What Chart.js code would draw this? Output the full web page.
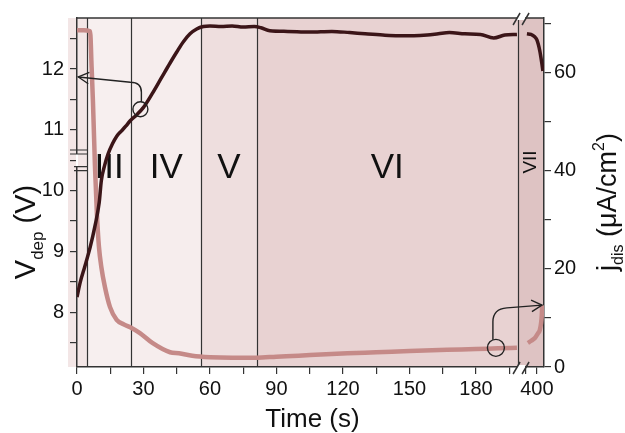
<!DOCTYPE html>
<html>
<head>
<meta charset="utf-8">
<script src="https://cdn.jsdelivr.net/npm/chart.js@4.4.1/dist/chart.umd.min.js"></script>
<style>
  html, body { margin: 0; padding: 0; background: #fff; }
</style>
</head>
<body>
<canvas id="myChart" width="625" height="433"></canvas>
<script>
// time axis is broken: ~199 s jumps to ~391.5 s
var BREAK_AT = 199;
var SEG2_START = 391.5;
var SHIFT = SEG2_START - BREAK_AT;
var T_END = 403.2;

function toAxis(t) { return t >= SEG2_START ? t - SHIFT : t; }
function fromAxis(v) { return v > BREAK_AT ? v + SHIFT : v; }

// V_dep (left axis)
var timeV = [0, 1.5, 3.5, 6, 8, 10, 11, 12.5, 14, 16, 18, 20, 22, 24, 27, 30, 34, 38, 42, 45, 48, 51, 54, 57, 60, 65, 70, 75, 80, 83, 87, 95, 105, 115, 123, 130, 138, 145, 152, 158, 163, 168, 175, 182, 188, 193, 198.5,
             395.5, 397.3, 399, 400, 401.3, 402.2, 402.7];
var vdep = [8.25, 8.5, 8.75, 9.08, 9.4, 9.8, 10.17, 10.42, 10.6, 10.77, 10.9, 10.98, 11.06, 11.15, 11.25, 11.37, 11.6, 11.85, 12.1, 12.28, 12.45, 12.58, 12.66, 12.7, 12.71, 12.7, 12.71, 12.69, 12.7, 12.68, 12.63, 12.62, 12.61, 12.62, 12.6, 12.58, 12.56, 12.55, 12.55, 12.56, 12.58, 12.6, 12.58, 12.57, 12.51, 12.56, 12.57,
            12.58, 12.57, 12.53, 12.48, 12.3, 12.1, 11.97];

// j_dis (right axis)
var timeJ = [0, 3, 5.9, 6.6, 7.2, 8.1, 9, 9.9, 11, 12.6, 14.9, 17.9, 21, 24, 28.4, 34, 42, 46, 52, 60, 70, 81, 90, 100, 110, 122, 135, 150, 167, 180, 190, 198.5,
             395.9, 397.3, 399.1, 400.4, 401.3, 401.9, 402.2, 402.4];
var jdis = [68.6, 68.6, 68.4, 61, 54, 41, 31, 24.5, 20.3, 16.3, 12.2, 9.6, 8.7, 8.1, 6.9, 4.9, 3.0, 2.8, 2.3, 2.0, 1.9, 1.9, 2.1, 2.3, 2.55, 2.8, 3.0, 3.25, 3.5, 3.65, 3.8, 3.9,
            4.9, 5.3, 5.9, 6.8, 7.5, 9.0, 10.5, 12.6];

// stages
var regionStart = [0, 4.5, 24.5, 56, 81, SEG2_START];
var regionEnd = [4.5, 24.5, 56, 81, BREAK_AT, T_END];
var regionLabels = ['', 'III', 'IV', 'V', 'VI', 'VII'];
var regionColors = ['#f3e6e6', '#f7efef', '#f6eded', '#eedede', '#e8d2d2', '#dec3c3'];

// ticks
var xMajor = [0, 30, 60, 90, 120, 150, 180, 400];
var xMinor = [15, 45, 75, 105, 135, 165, 195, 395];
var vMajor = [8, 9, 10, 11, 12];
var vMinor = [7.5, 8.5, 9.5, 10.5, 11.5, 12.5];
var jMajor = [0, 20, 40, 60];
var jMinor = [10, 30, 50, 70];

var FONT = "'Liberation Sans', Arial, sans-serif";

function series(ts, ys) {
    var pts = [];
    for (var i = 0; i < ts.length; i++) {
        if (i > 0 && ts[i] >= SEG2_START && ts[i - 1] < SEG2_START) {
            pts.push({x: BREAK_AT, y: null});
        }
        pts.push({x: toAxis(ts[i]), y: ys[i]});
    }
    return pts;
}

function tickList(major, minor, map) {
    map = map || function (v) { return v; };
    return major.concat(minor).map(map).sort(function (a, b) { return a - b; })
        .map(function (v) { return {value: v}; });
}

function drawLabel(ctx, x, y, parts) {
    // rotated -90deg, parts: text, size, dy (baseline shift)
    var total = 0;
    parts.forEach(function (p) { ctx.font = p.size + 'px ' + FONT; p.w = ctx.measureText(p.text).width; total += p.w; });
    ctx.save();
    ctx.translate(x, y);
    ctx.rotate(-Math.PI / 2);
    ctx.fillStyle = '#111';
    ctx.textBaseline = 'alphabetic';
    ctx.textAlign = 'left';
    var cx = -total / 2;
    parts.forEach(function (p) {
        ctx.font = p.size + 'px ' + FONT;
        ctx.fillText(p.text, cx, p.dy);
        cx += p.w;
    });
    ctx.restore();
}

function arrowHead(ctx, tx, ty, fx, fy) {
    var a = Math.atan2(ty - fy, tx - fx);
    var len = 12, sp = 0.5;
    ctx.beginPath();
    ctx.moveTo(tx - len * Math.cos(a - sp), ty - len * Math.sin(a - sp));
    ctx.lineTo(tx, ty);
    ctx.lineTo(tx - len * Math.cos(a + sp), ty - len * Math.sin(a + sp));
    ctx.stroke();
}

var stagePlugin = {
    id: 'stages',
    beforeDraw: function (chart) {
        var ctx = chart.ctx, a = chart.chartArea, x = chart.scales.x;
        ctx.save();
        ctx.fillStyle = regionColors[0];
        ctx.fillRect(a.left - 9, a.top, 9, a.bottom - a.top);
        for (var i = 0; i < regionStart.length; i++) {
            var x0 = x.getPixelForValue(toAxis(regionStart[i]));
            var x1 = x.getPixelForValue(toAxis(regionEnd[i]));
            ctx.fillStyle = regionColors[i];
            ctx.fillRect(x0, a.top, x1 - x0, a.bottom - a.top);
        }
        // stage names
        ctx.fillStyle = '#111';
        ctx.textAlign = 'center';
        ctx.textBaseline = 'middle';
        for (var k = 1; k < regionLabels.length; k++) {
            var xm = x.getPixelForValue(toAxis((regionStart[k] + regionEnd[k]) / 2));
            if (regionLabels[k] === 'VII') {
                ctx.save();
                ctx.translate(xm, a.top + 144);
                ctx.rotate(-Math.PI / 2);
                ctx.font = '19px ' + FONT;
                ctx.fillText(regionLabels[k], 0, 0);
                ctx.restore();
            } else {
                ctx.font = '35px ' + FONT;
                ctx.fillText(regionLabels[k], xm, a.top + 150);
            }
        }
        ctx.restore();
    },
    beforeDatasetsDraw: function (chart) {
        var ctx = chart.ctx, a = chart.chartArea, x = chart.scales.x;
        ctx.save();
        ctx.strokeStyle = '#333';
        ctx.lineWidth = 1.2;
        for (var i = 1; i < regionStart.length; i++) {
            var xp = Math.round(x.getPixelForValue(toAxis(regionStart[i]))) + 0.5;
            if (regionStart[i] === SEG2_START) xp = Math.round(x.getPixelForValue(BREAK_AT)) + 0.5;
            ctx.beginPath();
            ctx.moveTo(xp, a.top);
            ctx.lineTo(xp, a.bottom);
            ctx.stroke();
        }
        ctx.restore();
    },
    afterDraw: function (chart) {
        var ctx = chart.ctx, a = chart.chartArea, s = chart.scales;
        var px = function (t) { return s.x.getPixelForValue(toAxis(t)); };
        var pv = function (v) { return s.y.getPixelForValue(v); };
        var pj = function (v) { return s.y1.getPixelForValue(v); };
        ctx.save();
        ctx.strokeStyle = '#333';
        ctx.lineWidth = 1.5;
        // top frame
        ctx.beginPath();
        ctx.moveTo(a.left, a.top);
        ctx.lineTo(a.right, a.top);
        ctx.stroke();

        // break marks on time axis
        var xb = s.x.getPixelForValue(BREAK_AT);
        [a.top, a.bottom].forEach(function (yb) {
            ctx.fillStyle = '#fff';
            ctx.fillRect(xb - 1, yb - 2, 8, 4);
            ctx.beginPath();
            ctx.moveTo(xb - 5, yb + 7); ctx.lineTo(xb + 2, yb - 5);
            ctx.moveTo(xb + 4, yb + 7); ctx.lineTo(xb + 11, yb - 5);
            ctx.stroke();
        });
        // break marks on V axis
        var yb1 = pv(10.62), yb2 = pv(10.38);
        ctx.fillStyle = '#fff';
        ctx.fillRect(a.left - 1, yb1 + 1, 2, yb2 - yb1 - 2);
        ctx.lineWidth = 1.2;
        ctx.beginPath();
        ctx.moveTo(a.left - 7, yb1 - 3); ctx.lineTo(a.left + 10, yb1 - 3);
        ctx.moveTo(a.left - 7, yb1 + 1); ctx.lineTo(a.left + 10, yb1 + 1);
        ctx.moveTo(a.left - 3, yb2 - 1); ctx.lineTo(a.left + 10, yb2 - 1);
        ctx.moveTo(a.left - 3, yb2 + 3); ctx.lineTo(a.left + 10, yb2 + 3);
        ctx.stroke();

        // arrows
        ctx.strokeStyle = '#222';
        ctx.lineWidth = 1.4;
        var c1x = px(28.6), c1y = pv(11.34);
        ctx.beginPath(); ctx.arc(c1x, c1y, 7.5, 0, Math.PI * 2); ctx.stroke();
        var t1x = px(0.6), t1y = pv(11.87);
        ctx.beginPath();
        ctx.moveTo(c1x + 1, c1y - 7.5);
        ctx.lineTo(c1x + 1, c1y - 17);
        ctx.quadraticCurveTo(c1x + 1, c1y - 27, c1x - 10, c1y - 27);
        ctx.lineTo(t1x, t1y);
        ctx.stroke();
        arrowHead(ctx, t1x, t1y, c1x - 10, c1y - 27);

        var c2x = px(189), c2y = pj(3.9);
        ctx.beginPath(); ctx.arc(c2x, c2y, 8.5, 0, Math.PI * 2); ctx.stroke();
        var t2x = px(402.3), t2y = pj(12.6);
        ctx.beginPath();
        ctx.moveTo(c2x - 3, c2y - 8);
        ctx.lineTo(c2x - 3, c2y - 26);
        ctx.quadraticCurveTo(c2x - 3, c2y - 39, c2x + 11, c2y - 40);
        ctx.lineTo(t2x, t2y);
        ctx.stroke();
        arrowHead(ctx, t2x, t2y, c2x + 11, c2y - 40);

        // axis titles
        ctx.fillStyle = '#111';
        ctx.font = '26px ' + FONT;
        ctx.textAlign = 'center';
        ctx.textBaseline = 'alphabetic';
        ctx.fillText('Time (s)', (a.left + a.right) / 2 + 2, 427);
        ctx.restore();

        drawLabel(ctx, 35, 232, [
            {text: 'V', size: 29, dy: 0},
            {text: 'dep', size: 17, dy: 8},
            {text: ' (V)', size: 29, dy: 0}
        ]);
        drawLabel(ctx, 616, 202, [
            {text: 'j', size: 27, dy: 0},
            {text: 'dis', size: 16, dy: 7},
            {text: ' (\u03bcA/cm', size: 27, dy: 0},
            {text: '2', size: 16, dy: -12},
            {text: ')', size: 27, dy: 0}
        ]);
    }
};

var tickFont = {family: FONT, size: 20};
var axisGrid = {drawOnChartArea: false, drawTicks: true, tickLength: 7, color: '#333', lineWidth: 1.2};
var axisBorder = {display: true, color: '#333', width: 1.5};

var ctx = document.getElementById('myChart').getContext('2d');
var myGraph = new Chart(ctx, {
    type: 'line',
    data: {
        datasets: [
            {
                label: 'Vdep',
                data: series(timeV, vdep),
                yAxisID: 'y',
                borderColor: '#3b1518',
                borderWidth: 3.5,
                pointRadius: 0,
                cubicInterpolationMode: 'monotone',
                spanGaps: false,
                order: 0
            },
            {
                label: 'jdis',
                data: series(timeJ, jdis),
                yAxisID: 'y1',
                borderColor: '#c58a88',
                borderWidth: 4.5,
                pointRadius: 0,
                cubicInterpolationMode: 'monotone',
                spanGaps: false,
                order: 1
            }
        ]
    },
    options: {
        responsive: false,
        animation: false,
        layout: {padding: {top: 17, left: 0, right: 0, bottom: 0}},
        plugins: {
            legend: {display: false},
            tooltip: {enabled: false}
        },
        scales: {
            x: {
                type: 'linear',
                min: 0,
                max: toAxis(T_END),
                grid: axisGrid,
                border: axisBorder,
                afterBuildTicks: function (scale) { scale.ticks = tickList(xMajor, xMinor, toAxis); },
                afterFit: function (scale) { scale.height = 66; },
                ticks: {
                    autoSkip: false,
                    maxRotation: 0,
                    padding: 3,
                    color: '#111',
                    font: tickFont,
                    callback: function (value) {
                        var t = Math.round(fromAxis(value));
                        return xMajor.indexOf(t) >= 0 ? String(t) : '';
                    }
                }
            },
            y: {
                position: 'left',
                min: 7.1,
                max: 12.84,
                grid: axisGrid,
                border: axisBorder,
                afterBuildTicks: function (scale) { scale.ticks = tickList(vMajor, vMinor); },
                afterFit: function (scale) { scale.width = 77; },
                ticks: {
                    autoSkip: false,
                    padding: 6,
                    color: '#111',
                    font: tickFont,
                    callback: function (value) { return vMajor.indexOf(value) >= 0 ? String(value) : ''; }
                }
            },
            y1: {
                position: 'right',
                min: 0,
                max: 71.1,
                grid: axisGrid,
                border: axisBorder,
                afterBuildTicks: function (scale) { scale.ticks = tickList(jMajor, jMinor); },
                afterFit: function (scale) { scale.width = 81; },
                ticks: {
                    autoSkip: false,
                    padding: 3,
                    color: '#111',
                    font: tickFont,
                    callback: function (value) { return jMajor.indexOf(value) >= 0 ? String(value) : ''; }
                }
            }
        }
    },
    plugins: [stagePlugin]
});
</script>
</body>
</html>
